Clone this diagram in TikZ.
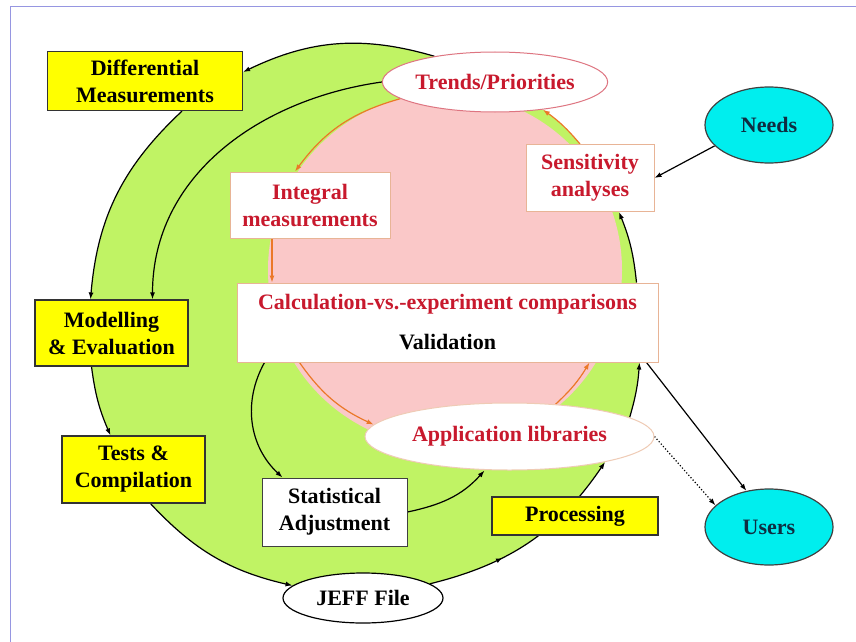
\documentclass[tikz,border=0pt]{standalone}
\usepackage{fontspec}
\setmainfont{Liberation Serif}
\usetikzlibrary{arrows.meta, shapes.geometric, decorations.markings}

\definecolor{ringgreen}{RGB}{192,243,100}
\definecolor{corepink}{RGB}{250,200,200}
\definecolor{boxyellow}{RGB}{255,255,0}
\definecolor{ovalcyan}{RGB}{0,238,238}
\definecolor{txtred}{RGB}{200,25,45}
\definecolor{txtnavy}{RGB}{15,45,65}
\definecolor{arrorange}{RGB}{235,120,40}
\definecolor{edgeorange}{RGB}{232,180,150}
\definecolor{framec}{RGB}{150,150,225}

\pgfdeclarelayer{disc}
\pgfdeclarelayer{links}
\pgfsetlayers{disc,links,main}

\begin{document}
\begin{tikzpicture}[x=1pt, y=-1pt,
    font=\bfseries\fontsize{22}{27}\selectfont,
    yb/.style={draw=black!80, fill=boxyellow, line width=1.2pt, align=center, inner sep=0pt},
    wb/.style={draw=edgeorange, fill=white, line width=1pt, align=center, inner sep=0pt, text=txtred},
    ov/.style={ellipse, draw, fill=white, line width=1pt, inner sep=0pt, align=center},
    cy/.style={ellipse, draw=black!75, fill=ovalcyan, line width=1.2pt, text=txtnavy, minimum width=128pt, minimum height=76pt},
    bl/.style={-{Latex[length=7pt,width=5pt]}, line width=1.2pt},
    orn/.style={-{Latex[length=7pt,width=5pt]}, line width=1.2pt, draw=arrorange}]
  \useasboundingbox (0,0) rectangle (856,642);

  \node[yb, minimum width=195pt, minimum height=59pt] (diff) at (145,81) {Differential\\Measurements};
  \node[ov, draw=txtred!60, text=txtred, minimum width=224pt, minimum height=60pt] (trends) at (495,82) {Trends/Priorities};
  \node[cy] (needs) at (769,125) {Needs};
  \node[wb, minimum width=128pt, minimum height=67pt] (sens) at (590,178) {Sensitivity\\analyses};
  \node[wb, minimum width=160pt, minimum height=66pt] (integ) at (310,205) {Integral\\measurements};
  \node[wb, text=black, minimum width=421pt, minimum height=79pt] (calc) at (447.5,322.5)
    {\textcolor{txtred}{Calculation-vs.-experiment comparisons}\\[13pt]Validation};
  \node[yb, minimum width=153pt, minimum height=66pt] (model) at (111.5,333) {Modelling\\\& Evaluation};
  \node[yb, minimum width=143pt, minimum height=67pt] (tests) at (133.5,469.5) {Tests \&\\Compilation};
  \node[wb, draw=black!75, text=black, minimum width=145pt, minimum height=68pt] (stat) at (334.5,512) {Statistical\\Adjustment};
  \node[ov, line width=1.2pt, minimum width=160pt, minimum height=50pt] (jeff) at (363,598) {JEFF File};
  \node[ov, draw=edgeorange!70, text=txtred, minimum width=289pt, minimum height=67pt] (app) at (509.5,436.5) {Application libraries};
  \node[yb, minimum width=166pt, minimum height=38pt] (proc) at (575,516) {Processing};
  \node[cy] (users) at (769,527) {Users};

  \begin{pgfonlayer}{disc}
    \fill[white] (0,0) rectangle (856,642);
    \draw[framec, line width=1pt] (10,642) -- (10,7) -- (856,7);
    % green ring, bounded by the outer arrows
    \fill[ringgreen] (trends.157) to[bend right=21] ([yshift=9pt]diff.east)
      -- ([xshift=37pt]diff.south) to[bend right=21] ([xshift=-21pt]model.north)
      -- ([xshift=-20pt]model.south) to[bend right=8] ([xshift=-23pt]tests.north)
      -- ([xshift=17pt]tests.south) to[bend right=17] (jeff.170)
      -- (jeff.12) to[bend right=21] (app.-15)
      -- (app.9) to[bend right=6] ([xshift=-19pt]calc.south east)
      -- ([xshift=-22pt]calc.north east) to[bend right=8] ([xshift=29pt]sens.south)
      -- ([xshift=-10pt]sens.north) to[bend right=7] (trends.-30) -- cycle;
    \fill[corepink] (445,270) circle[radius=177];
  \end{pgfonlayer}

  \begin{pgfonlayer}{links}
    % outer ring
    \draw[bl] (trends.157) to[bend right=21] ([yshift=9pt]diff.east);
    \draw[bl] ([xshift=37pt]diff.south) to[bend right=21] ([xshift=-21pt]model.north);
    \draw[bl] (trends.west) to[out=188,in=90] ([xshift=41pt]model.north);
    \draw[bl] ([xshift=-20pt]model.south) to[bend right=8] ([xshift=-23pt]tests.north);
    \draw[bl] ([xshift=17pt]tests.south) to[bend right=17] (jeff.170);
    \draw[bl, postaction={decorate},
      decoration={markings, mark=at position 0.35 with {\arrow{Latex[length=6pt,width=5pt]}}}]
      (jeff.12) to[bend right=21] (app.-15);
    \draw[bl] (app.9) to[bend right=6] ([xshift=-19pt]calc.south east);
    \draw[bl] ([xshift=-22pt]calc.north east) to[bend right=8] ([xshift=29pt]sens.south);
    % inside the ring
    \draw[bl] ([xshift=28pt]calc.south west) to[bend right=38] ([xshift=21pt]stat.north west);
    \draw[bl] (stat.east) to[out=12,in=228] ([xshift=-25pt]app.south);
    % core loop
    \draw[orn] (trends.190) to[bend right=19] ([xshift=-15pt]integ.north);
    \draw[orn] ([xshift=-38pt]integ.south) coordinate (i1) -- (i1 |- calc.north);
    \draw[orn] ([xshift=63pt]calc.south west) to[bend right=15] (app.175);
    \draw[orn] (app.35) to[bend right=8] ([xshift=-69pt]calc.south east);
    \draw[orn] ([xshift=-10pt]sens.north) to[bend right=7] (trends.-30);
    % needs and users
    \draw[bl] (needs.201) -- (sens.east);
    \draw[bl] ([xshift=-12pt]calc.south east) -- (users.122);
    \draw[bl, dotted] (app.east) -- (users.158);
  \end{pgfonlayer}
\end{tikzpicture}
\end{document}
